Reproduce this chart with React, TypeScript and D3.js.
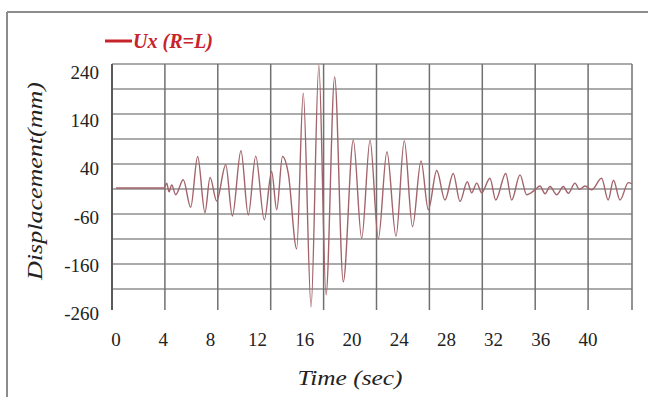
import { curveMonotoneX, line, range, scaleLinear, select } from 'd3';
import { useEffect, useRef } from 'react';

// displacement record (peaks and troughs)
const timeSec = [
  0, 4.07, 4.3, 4.49, 4.72, 5.06, 5.7, 6.33, 6.92, 7.54, 7.97, 8.53, 9.3, 9.86,
  10.59, 11.21, 11.84, 12.57, 13.19, 13.62, 14.11, 14.6, 15.31, 15.87, 16.53,
  17.19, 17.8, 18.53, 19.26, 20.11, 20.82, 21.53, 22.23, 22.96, 23.73, 24.43,
  25.13, 25.85, 26.47, 27.18, 27.88, 28.58, 29.15, 29.77, 30.14, 30.57, 30.99,
  31.69, 32.18, 33.03, 33.53, 34.24, 34.8, 35.51, 35.93, 36.36, 36.78, 37.35,
  37.91, 38.33, 38.9, 39.26, 39.75, 40.31, 41.15, 41.71, 42.16, 42.71, 43.42,
  43.7,
];
const dispMm = [
  0, 0, 10, -8, 6, -14, 17, -40, 65, -51, 22, -27, 48, -58, 77, -56, 66, -66,
  34, -45, 65, 30, -126, 196, -246, 254, -221, 230, -194, 99, -104, 99, -105,
  75, -100, 98, -80, 56, -45, 36, -25, 30, -28, 13, -10, 10, -10, 20, -25, 30,
  -25, 27, -14, -4, 4, -12, 3, -14, 3, -11, 10, -3, 4, -4, 20, -25, 16, -25,
  11, 9,
];

const xTicks = range(0, 41, 4);
const yTicks = [240, 140, 40, -60, -160, -260];
const legendLabel = 'Ux (R=L)';

export default function App() {
  const svgRef = useRef<SVGSVGElement>(null);

  useEffect(() => {
    if (!svgRef.current) return;
    const svg = select(svgRef.current);
    const serif = '"Liberation Serif", "Times New Roman", serif';

    const left = 112;
    const right = 632;
    const top = 64;
    const bottom = 310;

    // scale of the labelled values
    const x = scaleLinear().domain([0, 40]).range([116, 588]);
    const y = scaleLinear().domain([-260, 240]).range([313.6, 72]);
    // grid drawn by the plot (not aligned with the labels in the figure)
    const gridX = scaleLinear().domain([0, 40]).range([left, 641]);
    const gridY = scaleLinear().domain([-260, 240]).range([314, top]);

    // outer frame
    svg.append('line').attr('x1', 7).attr('x2', 648).attr('y1', 12).attr('y2', 12)
      .attr('stroke', '#8c8c8c').attr('stroke-width', 2);
    svg.append('line').attr('x1', 7).attr('x2', 7).attr('y1', 12).attr('y2', 397)
      .attr('stroke', '#8c8c8c').attr('stroke-width', 2);

    const grid = svg.append('g');
    grid.selectAll('line.h')
      .data(range(-210, 241, 50))
      .join('line')
      .attr('x1', left).attr('x2', right)
      .attr('y1', (d) => gridY(d)).attr('y2', (d) => gridY(d))
      .attr('stroke', '#8f8f8f').attr('stroke-width', 1.4);
    grid.selectAll('line.v')
      .data(range(4, 37, 4))
      .join('line')
      .attr('x1', (d) => gridX(d)).attr('x2', (d) => gridX(d))
      .attr('y1', top).attr('y2', bottom)
      .attr('stroke', '#707070').attr('stroke-width', 1.5);
    grid.append('line').attr('x1', right).attr('x2', right).attr('y1', top).attr('y2', bottom)
      .attr('stroke', '#707070').attr('stroke-width', 1.5);
    grid.append('line').attr('x1', left).attr('x2', left).attr('y1', top).attr('y2', bottom)
      .attr('stroke', '#5a5a5a').attr('stroke-width', 2);

    const data = timeSec.map((t, i) => ({ t, v: dispMm[i] }));
    const trace = line<typeof data[number]>()
      .curve(curveMonotoneX)
      .x((d) => x(d.t))
      .y((d) => y(d.v));
    svg.append('path')
      .datum(data)
      .attr('fill', 'none')
      .attr('d', trace)
      .attr('stroke', '#a2646a')
      .attr('stroke-width', 1.4);

    // tick labels
    svg.append('g').selectAll('text')
      .data(yTicks)
      .join('text')
      .attr('x', 99).attr('y', (d) => y(d))
      .attr('dy', '0.35em')
      .attr('text-anchor', 'end')
      .attr('font-family', serif).attr('font-size', 19)
      .attr('fill', '#222')
      .text((d) => d);
    svg.append('g').selectAll('text')
      .data(xTicks)
      .join('text')
      .attr('x', (d) => x(d)).attr('y', 346)
      .attr('text-anchor', 'middle')
      .attr('font-family', serif).attr('font-size', 19)
      .attr('fill', '#222')
      .text((d) => d);

    // axis titles
    svg.append('text')
      .attr('x', 350).attr('y', 385)
      .attr('text-anchor', 'middle')
      .attr('font-family', serif).attr('font-style', 'italic').attr('font-size', 21)
      .attr('textLength', 105).attr('lengthAdjust', 'spacingAndGlyphs')
      .attr('fill', '#222')
      .text('Time (sec)');
    svg.append('text')
      .attr('transform', 'translate(42,181) rotate(-90)')
      .attr('text-anchor', 'middle')
      .attr('font-family', serif).attr('font-style', 'italic').attr('font-size', 21)
      .attr('textLength', 198).attr('lengthAdjust', 'spacingAndGlyphs')
      .attr('fill', '#222')
      .text('Displacement(mm)');

    // legend
    svg.append('line').attr('x1', 105).attr('x2', 132).attr('y1', 41).attr('y2', 41)
      .attr('stroke', '#c8222b').attr('stroke-width', 3);
    svg.append('text')
      .attr('x', 133).attr('y', 48)
      .attr('font-family', serif).attr('font-style', 'italic').attr('font-weight', 'bold')
      .attr('font-size', 22)
      .attr('textLength', 80).attr('lengthAdjust', 'spacingAndGlyphs')
      .attr('fill', '#c8222b')
      .text(legendLabel);

    return () => {
      svg.selectAll('*').remove();
    };
  }, []);

  return (
    <svg
      ref={svgRef}
      width={648}
      height={397}
      style={{ position: 'absolute', left: 0, top: 0, background: '#fff' }}
    />
  );
}
